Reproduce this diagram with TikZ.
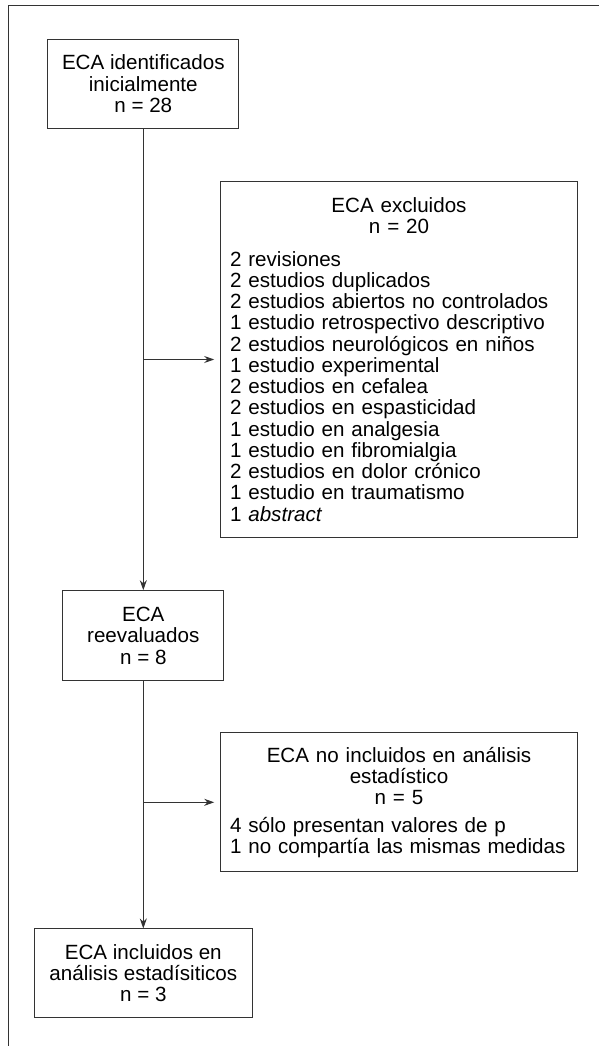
\documentclass[tikz,border=0pt]{standalone}
\usepackage{fontspec}
\setmainfont{Liberation Sans}
\usetikzlibrary{arrows.meta}

\tikzset{
    caja/.style={draw=black!80, line width=1pt, inner sep=0pt, align=center,
        font=\fontsize{20.6}{21.25}\selectfont},
    lista/.style={draw=black!80, line width=1pt, inner xsep=9.3pt, inner ysep=0pt,
        text width=338pt, font=\fontsize{20.6}{21.25}\selectfont},
    flecha/.style={draw=black!80, line width=1pt, -{Stealth[length=10pt,width=7pt]}},
}

\begin{document}
\begin{tikzpicture}[x=1pt,y=-1pt]
    \useasboundingbox (0,0) rectangle (599,1046);
    \draw[black!80, line width=1pt] (599,5.3) -- (8.3,5.3) -- (8.3,1046);

    \node[caja, minimum width=191.3pt, minimum height=89pt] (ini) at (143.3,83.8)
        {ECA identificados\\inicialmente\\n = 28};
    \node[lista, minimum width=356.6pt, minimum height=355.6pt] (exc) at (399,359.5)
        {{\centering ECA excluidos\\n = 20\par}\vspace{11pt}
        \raggedright
        2 revisiones\\
        2 estudios duplicados\\
        2 estudios abiertos no controlados\\
        1 estudio retrospectivo descriptivo\\
        2 estudios neurológicos en niños\\
        1 estudio experimental\\
        2 estudios en cefalea\\
        2 estudios en espasticidad\\
        1 estudio en analgesia\\
        1 estudio en fibromialgia\\
        2 estudios en dolor crónico\\
        1 estudio en traumatismo\\
        1 \textit{abstract}\par};
    \node[caja, minimum width=160.8pt, minimum height=90pt] (rev) at (143.3,635.7)
        {ECA\\reevaluados\\n = 8};
    \node[lista, minimum width=356.6pt, minimum height=139pt] (noinc) at (399,802.3)
        {{\centering ECA no incluidos en análisis\\estadístico\\n = 5\par}\vspace{6pt}
        \raggedright
        4 sólo presentan valores de p\\
        1 no compartía las mismas medidas\par};
    \node[caja, minimum width=217.7pt, minimum height=88.7pt] (fin) at (143.3,973.3)
        {ECA incluidos en\\análisis estadísiticos\\n = 3};

    \coordinate (r1) at (ini.south |- exc.west);
    \coordinate (r2) at (rev.south |- noinc.west);

    \draw[flecha] (ini) -- (rev);
    \draw[flecha] (rev) -- (fin);
    \draw[flecha, shorten >=6pt] (r1) -- (exc.west);
    \draw[flecha, shorten >=6pt] (r2) -- (noinc.west);
\end{tikzpicture}
\end{document}
